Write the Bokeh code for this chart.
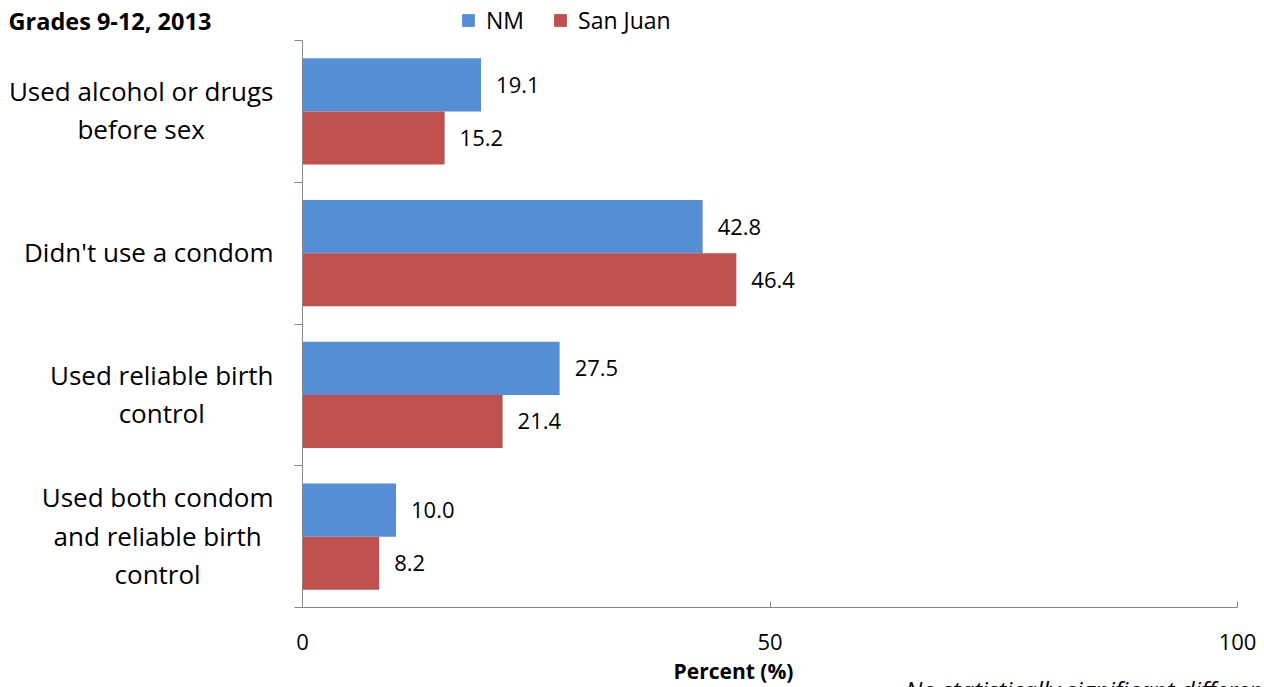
from bokeh.plotting import figure
from bokeh.models import (ColumnDataSource, Range1d, FixedTicker, LabelSet, Label,
                          Legend, LegendItem)
from bokeh.transform import dodge
from bokeh.embed import file_html
from bokeh.resources import INLINE
from bokeh.core.properties import value

# ---------------- data ----------------
categories = [
    "Used alcohol or drugs\nbefore sex",
    "Didn't use a condom",
    "Used reliable birth\ncontrol",
    "Used both condom\nand reliable birth\ncontrol",
]
nm = [19.1, 42.8, 27.5, 10.0]
san_juan = [15.2, 46.4, 21.4, 8.2]
series_names = ["NM", "San Juan"]
x_ticks = [0, 50, 100]
title_text = "Grades 9-12, 2013"
x_title = "Percent (%)"
footnote = "No statistically significant difference"

# ---------------- layout / styling ----------------
W, H = 1264, 687
FONT = "Open Sans"
BLUE = "#558ED5"
RED = "#C0504D"
AXIS_GRAY = "#868686"
BAR_H = 0.375

# pixel geometry of the plotting area (value 0..100, categories 0..n)
X0_PX, X100_PX = 302, 1237
Y_TOP_PX, Y_BOT_PX = 40, 607

n = len(categories)
ycenter = [n - i - 0.5 for i in range(n)]

px_per_x = (X100_PX - X0_PX) / 100.0
px_per_y = (Y_BOT_PX - Y_TOP_PX) / float(n)
x_range = Range1d(-X0_PX / px_per_x, 100 + (W - X100_PX) / px_per_x)
y_range = Range1d(-(H - Y_BOT_PX) / px_per_y, n + Y_TOP_PX / px_per_y)

src = ColumnDataSource(dict(
    y=ycenter, nm=nm, sj=san_juan,
    nm_txt=[f"{v:.1f}" for v in nm],
    sj_txt=[f"{v:.1f}" for v in san_juan],
))

p = figure(width=W, height=H, output_backend="svg", toolbar_location=None,
           x_range=x_range, y_range=y_range,
           min_border=0, min_border_left=0, min_border_right=0,
           min_border_top=0, min_border_bottom=0, title=None)
p.outline_line_color = None
p.xgrid.visible = False
p.ygrid.visible = False

r_nm = p.hbar(y=dodge('y', BAR_H / 2), left=0, right='nm', height=BAR_H,
              source=src, fill_color=BLUE, line_color=None)
r_sj = p.hbar(y=dodge('y', -BAR_H / 2), left=0, right='sj', height=BAR_H,
              source=src, fill_color=RED, line_color=None)

for col, txt, off in (('nm', 'nm_txt', BAR_H / 2), ('sj', 'sj_txt', -BAR_H / 2)):
    p.add_layout(LabelSet(x=col, y=dodge('y', off), text=txt, source=src,
                          x_offset=15, text_baseline='middle', text_align='left',
                          text_font=value(FONT), text_font_size='22px',
                          text_color='black'))

# y axis: drawn at x = 0, tick marks at category boundaries
yax = p.yaxis[0]
yax.fixed_location = 0
yax.bounds = (0, n)
yax.ticker = FixedTicker(ticks=[], minor_ticks=list(range(n + 1)))
yax.major_tick_line_color = None
yax.major_tick_out = 0
yax.major_tick_in = 0
yax.minor_tick_out = 8
yax.minor_tick_in = 0
yax.minor_tick_line_color = AXIS_GRAY
yax.axis_line_color = AXIS_GRAY
yax.major_label_text_font_size = '0px'

# category labels: block right-aligned next to the axis, lines centred
for yc, cat in zip(ycenter, categories):
    p.add_layout(Label(x=0, y=yc, x_offset=-29, y_offset=1, text=cat,
                       anchor="center_right", text_align="center",
                       text_baseline="middle", text_font=FONT,
                       text_font_size="26px", text_line_height=1.06,
                       text_color="black"))

# x axis: drawn at y = 0
xax = p.xaxis[0]
xax.fixed_location = 0
xax.bounds = (0, 100)
xax.ticker = FixedTicker(ticks=x_ticks)
xax.major_tick_in = 6
xax.major_tick_out = 0
xax.minor_tick_line_color = None
xax.axis_line_color = AXIS_GRAY
xax.major_tick_line_color = AXIS_GRAY
xax.major_label_standoff = 26
xax.major_label_text_font = FONT
xax.major_label_text_font_size = '22px'
xax.major_label_text_color = 'black'

legend = Legend(items=[LegendItem(label=series_names[0], renderers=[r_nm]),
                       LegendItem(label=series_names[1], renderers=[r_sj])],
                orientation="horizontal", location=(460, H - 36), padding=0, margin=0,
                spacing=28, label_standoff=10, glyph_width=16, glyph_height=16,
                border_line_color=None, background_fill_alpha=0,
                label_text_font=FONT, label_text_font_size="23px",
                label_text_color="black")
p.add_layout(legend)

p.add_layout(Label(x=8, y=H - 20, x_units="screen", y_units="screen",
                   text=title_text, text_font=FONT, text_font_style="bold",
                   text_font_size="23.5px", text_baseline="middle",
                   text_align="left", text_color="black"))
p.add_layout(Label(x=733, y=H - 670, x_units="screen", y_units="screen",
                   text=x_title, text_font=FONT, text_font_style="bold",
                   text_font_size="21px", text_baseline="middle",
                   text_align="center", text_color="black"))
p.add_layout(Label(x=905, y=H - 672, x_units="screen", y_units="screen",
                   text=footnote, text_font=FONT, text_font_style="italic",
                   text_font_size="24px", text_baseline="top",
                   text_align="left", text_color="black"))

open("out.html", "w").write(file_html(p, INLINE))
